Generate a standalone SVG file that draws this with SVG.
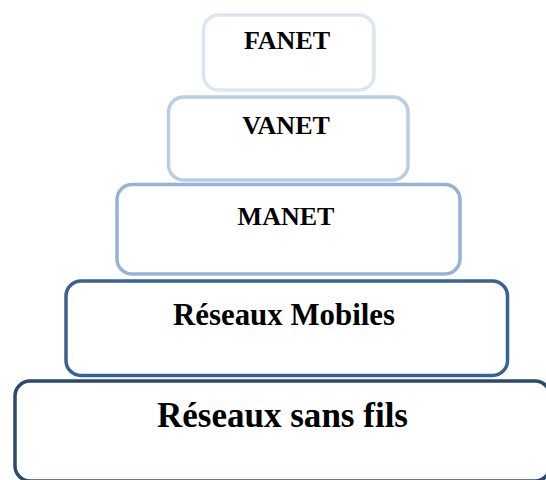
<svg xmlns="http://www.w3.org/2000/svg" width="546" height="480" viewBox="0 0 546 480">
  <style>
    .box { fill: #ffffff; stroke-width: 3.5; }
    .lbl { font-family: "Liberation Serif", "Times New Roman", serif; font-weight: bold; fill: #000000; text-anchor: middle; }
  </style>
  <rect x="0" y="0" width="546" height="480" fill="#ffffff"/>

  <!-- base layer first so upper layers overlap its top edge -->
  <g id="reseaux-sans-fils">
    <rect class="box" x="15" y="381" width="535" height="100" rx="15" ry="15" stroke="#2b4a6f"/>
    <text class="lbl" x="282.5" y="426.5" font-size="35" textLength="251" lengthAdjust="spacingAndGlyphs">Réseaux sans fils</text>
  </g>

  <g id="reseaux-mobiles">
    <rect class="box" x="66" y="281" width="441.5" height="94.5" rx="15" ry="15" stroke="#3a6291"/>
    <text class="lbl" x="284" y="325" font-size="30.5" textLength="222" lengthAdjust="spacingAndGlyphs">Réseaux Mobiles</text>
  </g>

  <g id="manet">
    <rect class="box" x="117" y="184.5" width="343" height="89.5" rx="15" ry="15" stroke="#95b3d7"/>
    <text class="lbl" x="286" y="225" font-size="26">MANET</text>
  </g>

  <g id="vanet">
    <rect class="box" x="168.5" y="97" width="239.5" height="83" rx="15" ry="15" stroke="#b9cde5"/>
    <text class="lbl" x="286" y="134.3" font-size="26">VANET</text>
  </g>

  <g id="fanet">
    <rect class="box" x="203.5" y="15" width="170.5" height="75" rx="15" ry="15" stroke="#dce6f2"/>
    <text class="lbl" x="287" y="49.3" font-size="26">FANET</text>
  </g>

  <g id="connectors"></g>
</svg>
